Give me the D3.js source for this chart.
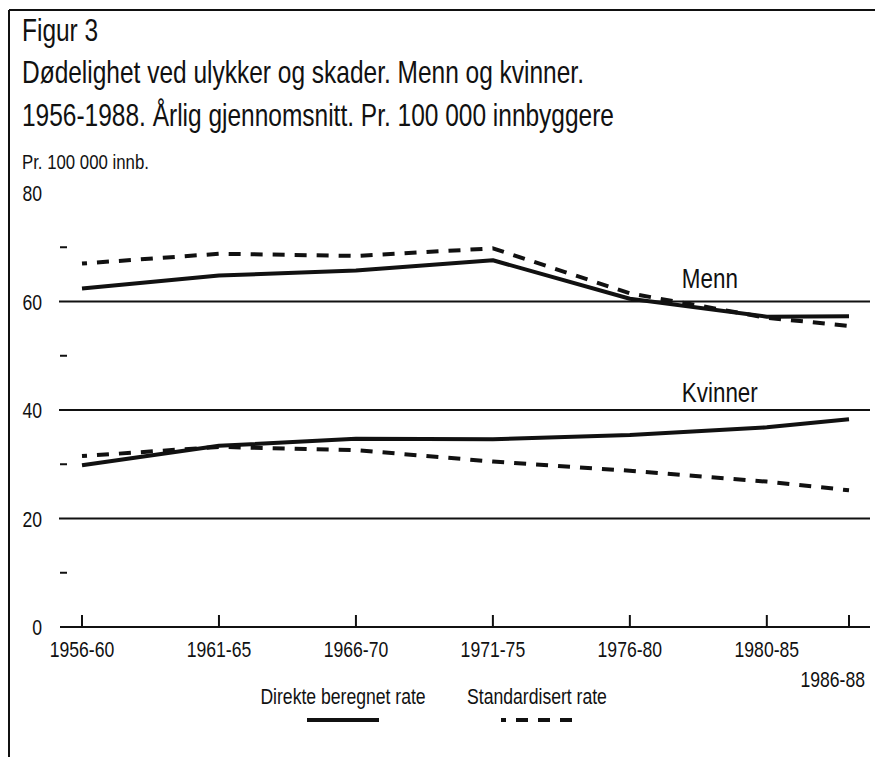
<!DOCTYPE html>
<html>
<head>
<meta charset="utf-8">
<script src="https://cdn.jsdelivr.net/npm/d3@7"></script>
<style>
  html, body { margin: 0; padding: 0; background: #fff; }
  svg { display: block; }
  text { font-family: "Liberation Sans", Arial, sans-serif; fill: #111; }
</style>
</head>
<body>
<svg id="chart" width="875" height="757"></svg>
<script>
// Periods on the x axis and the year each one is plotted at
const periods = ["1956-60", "1961-65", "1966-70", "1971-75", "1976-80", "1980-85", "1986-88"];
const periodYear = [1958, 1963, 1968, 1973, 1978, 1983, 1986];

// Deaths from accidents and injuries per 100 000 inhabitants
const mennDirekte     = [62.4, 64.8, 65.7, 67.6, 60.5, 57.2, 57.3];
const mennStandard    = [67.0, 68.8, 68.4, 69.8, 61.5, 57.0, 55.5];
const kvinnerDirekte  = [29.8, 33.4, 34.7, 34.6, 35.4, 36.8, 38.3];
const kvinnerStandard = [31.5, 33.2, 32.6, 30.5, 28.8, 26.8, 25.2];

// Axis values
const yLabelTicks = [0, 20, 40, 60, 80];
const gridValues = [20, 40, 60];
const minorTicks = [10, 30, 50, 70];

// Texts
const titleLines = [
  "Figur 3",
  "Dødelighet ved ulykker og skader. Menn og kvinner.",
  "1956-1988. Årlig gjennomsnitt. Pr. 100 000 innbyggere"
];
const yUnit = "Pr. 100 000 innb.";
const seriesNames = ["Menn", "Kvinner"];
const legendLabels = ["Direkte beregnet rate", "Standardisert rate"];

const svg = d3.select("#chart");
const ink = "#111";
const condense = 0.8; // horizontal squeeze for a condensed look

// Condensed text placed at (x, y)
function label(parent, x, y, str, size, anchor, squeeze) {
  return parent.append("text")
    .attr("transform", `translate(${x},${y}) scale(${squeeze || condense},1)`)
    .attr("text-anchor", anchor || "start")
    .attr("font-size", size)
    .text(str);
}

// Frame
svg.append("line").attr("x1", 9).attr("x2", 9).attr("y1", 10).attr("y2", 757)
  .attr("stroke", ink).attr("stroke-width", 2);
svg.append("line").attr("x1", 9).attr("x2", 875).attr("y1", 10).attr("y2", 10)
  .attr("stroke", ink).attr("stroke-width", 2);

// Title block
const titleBase = [41, 83, 126];
titleLines.forEach((t, i) => label(svg, 22, titleBase[i], t, 31, "start", 0.79));
label(svg, 22, 169, yUnit, 21);

// Scales
const x = d3.scaleLinear().domain([periodYear[0], periodYear[periodYear.length - 1]]).range([82, 849]);
const y = d3.scaleLinear().domain([0, 80]).range([627, 193]);

// Gridlines
svg.append("g").selectAll("line").data(gridValues).join("line")
  .attr("x1", 59).attr("x2", 870)
  .attr("y1", d => y(d)).attr("y2", d => y(d))
  .attr("stroke", ink).attr("stroke-width", 1.8);

// Zero line (x axis)
svg.append("line").attr("x1", 60).attr("x2", 870).attr("y1", y(0)).attr("y2", y(0))
  .attr("stroke", ink).attr("stroke-width", 2.2);

// Short marks at the intermediate values
svg.append("g").selectAll("line").data(minorTicks).join("line")
  .attr("x1", 60).attr("x2", 67)
  .attr("y1", d => y(d)).attr("y2", d => y(d))
  .attr("stroke", ink).attr("stroke-width", 2);

// Y labels
const yLab = svg.append("g");
yLabelTicks.forEach(v => label(yLab, 42, y(v) + 8, v, 22, "end"));

// X ticks
svg.append("g").selectAll("line").data(periodYear).join("line")
  .attr("x1", d => x(d)).attr("x2", d => x(d))
  .attr("y1", y(0)).attr("y2", y(0) - 12)
  .attr("stroke", ink).attr("stroke-width", 2);

// X labels (the last, shorter period sits on a second row)
const last = periods.length - 1;
const xLab = svg.append("g");
periods.forEach((p, i) => {
  if (i === last) label(xLab, x(periodYear[i]) + 16, y(0) + 60, p, 22, "end");
  else label(xLab, x(periodYear[i]), y(0) + 30, p, 22, "middle");
});

// Series lines
const line = d3.line()
  .x((d, i) => x(periodYear[i]))
  .y(d => y(d));

const series = [
  { values: mennStandard, dashed: true },
  { values: mennDirekte, dashed: false },
  { values: kvinnerStandard, dashed: true },
  { values: kvinnerDirekte, dashed: false }
];
svg.append("g").selectAll("path").data(series).join("path")
  .attr("d", d => line(d.values))
  .attr("fill", "none")
  .attr("stroke", ink)
  .attr("stroke-width", 4)
  .attr("stroke-linejoin", "round")
  .attr("stroke-dasharray", d => d.dashed ? "12,10" : null)
  .attr("stroke-dashoffset", d => d.dashed ? 7 : null);

// Series names
label(svg, x(periodYear[5]) - 85, y(60) - 14, seriesNames[0], 28);
label(svg, x(periodYear[5]) - 85, y(40) - 8, seriesNames[1], 28);

// Legend
const legend = svg.append("g");
const legendItems = [
  { label: legendLabels[0], cx: 343, dashed: false },
  { label: legendLabels[1], cx: 537, dashed: true }
];
legendItems.forEach(it => {
  label(legend, it.cx, 704, it.label, 22, "middle");
  legend.append("line")
    .attr("x1", it.cx - 36).attr("x2", it.cx + 36)
    .attr("y1", 720).attr("y2", 720)
    .attr("stroke", ink).attr("stroke-width", 4)
    .attr("stroke-dasharray", it.dashed ? "12,10" : null)
    .attr("stroke-dashoffset", it.dashed ? 7 : null);
});
</script>
</body>
</html>
